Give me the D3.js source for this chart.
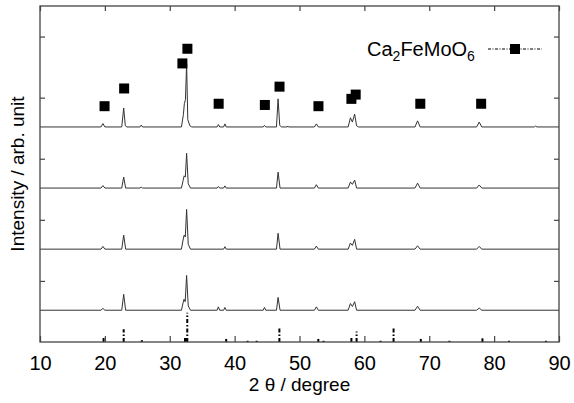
<!DOCTYPE html>
<html><head><meta charset="utf-8">
<script src="https://cdn.jsdelivr.net/npm/d3@7"></script>
<style>body{margin:0;background:#fff}svg{display:block}text{font-family:"Liberation Sans",Arial,sans-serif;fill:#000}</style>
</head><body><svg id="c" width="574" height="403"></svg>
<script>
// ---- data ----
const xTicks = [10,20,30,40,50,60,70,80,90];
const yTicks = [1,2,3,4,5];
const offsets = [0.52, 1.52, 2.52, 3.52]; // baselines, bottom to top
// measured patterns [2theta, intensity above baseline]
const pattern1 = [[10,0],[19.4,0],[19.7,0.03],[20.0,0],[22.6,0],[22.9,0.26],[23.2,0],[31.8,0],[32.05,0.12],[32.2,0.18],[32.38,0.14],[32.6,0.57],[32.85,0.07],[33.2,0],[37.3,0],[37.5,0.055],[37.7,0],[38.3,0],[38.5,0.045],[38.7,0],[44.4,0],[44.6,0.045],[44.8,0],[46.45,0],[46.7,0.21],[47.0,0],[52.3,0],[52.6,0.055],[52.9,0],[57.5,0],[57.85,0.11],[58.15,0.06],[58.5,0.14],[58.8,0],[67.8,0],[68.2,0.065],[68.6,0],[77.3,0],[77.7,0.035],[78.1,0],[90,0]];
const pattern2 = [[10,0],[19.4,0],[19.7,0.045],[20.0,0],[22.6,0],[22.9,0.23],[23.2,0],[31.8,0],[32.05,0.15],[32.22,0.23],[32.4,0.2],[32.6,0.65],[32.85,0.08],[33.2,0],[38.3,0],[38.5,0.04],[38.7,0],[46.45,0],[46.7,0.26],[47.0,0],[52.3,0],[52.6,0.05],[52.9,0],[57.5,0],[57.85,0.1],[58.15,0.06],[58.5,0.16],[58.8,0],[67.8,0],[68.2,0.055],[68.6,0],[77.3,0],[77.7,0.045],[78.1,0],[90,0]];
const pattern3 = [[10,0],[19.4,0],[19.7,0.04],[20.0,0],[22.6,0],[22.9,0.18],[23.2,0],[25.4,0],[25.6,0.015],[25.8,0],[31.8,0],[32.05,0.12],[32.22,0.2],[32.4,0.18],[32.6,0.57],[32.85,0.07],[33.2,0],[37.3,0],[37.5,0.025],[37.7,0],[38.3,0],[38.5,0.035],[38.7,0],[46.45,0],[46.7,0.26],[47.0,0],[52.3,0],[52.6,0.055],[52.9,0],[57.5,0],[57.85,0.1],[58.15,0.06],[58.5,0.13],[58.8,0],[67.8,0],[68.2,0.08],[68.6,0],[77.3,0],[77.7,0.05],[78.1,0],[90,0]];
const pattern4 = [[10,0],[19.4,0],[19.7,0.055],[20.0,0],[22.6,0],[22.9,0.31],[23.15,0.02],[23.4,0],[25.4,0],[25.6,0.03],[25.8,0],[31.8,0],[32.1,0.2],[32.25,0.38],[32.42,0.45],[32.6,1.03],[32.78,0.12],[33.1,0.02],[33.4,0],[37.3,0],[37.5,0.04],[37.7,0],[38.3,0],[38.5,0.05],[38.7,0],[44.4,0],[44.6,0.025],[44.8,0],[46.45,0],[46.7,0.46],[46.95,0.03],[47.2,0],[48.1,0],[48.2,0.015],[48.3,0],[52.3,0],[52.6,0.05],[52.9,0],[57.5,0],[57.85,0.15],[58.15,0.08],[58.5,0.21],[58.8,0.02],[59.1,0],[67.8,0],[68.2,0.1],[68.6,0],[77.3,0],[77.7,0.08],[78.1,0],[86.2,0],[86.4,0.015],[86.6,0],[90,0]];
const patterns = [pattern1, pattern2, pattern3, pattern4];
// Ca2FeMoO6 peak markers
const markX = [19.95,22.97,31.95,32.72,37.54,44.66,46.92,52.92,58.0,58.66,68.62,78.0];
const markY = [3.86,4.15,4.56,4.8,3.9,3.88,4.18,3.86,3.98,4.05,3.9,3.9];
// reference sticks
const stickX = [19.8,22.9,25.7,32.35,32.55,32.7,38.7,42.0,43.4,46.9,52.9,53.7,58.0,58.8,62.5,64.5,68.7,73.1,78.2,82.3,88.0];
const stickI = [0.08,0.21,0.03,0.07,0.07,0.48,0.05,0.02,0.02,0.23,0.05,0.02,0.07,0.17,0.02,0.25,0.05,0.02,0.06,0.02,0.02];
const legendLabel = ["Ca","2","FeMoO","6"];

// ---- drawing ----
const svg = d3.select("#c");
const L=40, R=559, T=6, B=342;
const x = d3.scaleLinear().domain([10,90]).range([L,R]);
const y = d3.scaleLinear().domain([0,5.5]).range([B,T]);
const axisCol = "#444";

// traces
const line = d3.line().x(d=>x(d[0])).y(d=>y(d[1]));
patterns.forEach((p,i)=>{
  svg.append("path").datum(p.map(d=>[d[0], d[1]+offsets[i]]))
    .attr("d", line).attr("fill","none").attr("stroke","#333").attr("stroke-width",1);
});

// sticks
svg.append("g").selectAll("line").data(stickX).join("line")
  .attr("x1",d=>x(d)).attr("x2",d=>x(d))
  .attr("y1",y(0)).attr("y2",(d,i)=>y(stickI[i]))
  .attr("stroke","#000").attr("stroke-width",2)
  .attr("stroke-dasharray","4,2,1.5,2");

// markers
svg.append("g").selectAll("rect").data(markX).join("rect")
  .attr("x",d=>x(d)-5).attr("y",(d,i)=>y(markY[i])-5)
  .attr("width",10).attr("height",10).attr("fill","#000");

// frame
svg.append("rect").attr("x",L).attr("y",T).attr("width",R-L).attr("height",B-T)
  .attr("fill","none").attr("stroke",axisCol).attr("stroke-width",1.3);

// axes (inward ticks)
const xb = svg.append("g").attr("transform",`translate(0,${B})`)
  .call(d3.axisBottom(x).tickValues(xTicks).tickSize(-6).tickPadding(14).tickFormat(d3.format("d")));
const xt = svg.append("g").attr("transform",`translate(0,${T})`)
  .call(d3.axisTop(x).tickValues(xTicks).tickSize(-5).tickFormat(""));
const yl = svg.append("g").attr("transform",`translate(${L},0)`)
  .call(d3.axisLeft(y).tickValues(yTicks).tickSize(-5).tickFormat(""));
const yr = svg.append("g").attr("transform",`translate(${R},0)`)
  .call(d3.axisRight(y).tickValues(yTicks).tickSize(-5).tickFormat(""));
[xb,xt,yl,yr].forEach(g=>{
  g.select(".domain").remove();
  g.selectAll("line").attr("stroke",axisCol).attr("stroke-width",1.2);
});
xb.selectAll("text").attr("font-size",20).attr("font-family","Liberation Sans, Arial, sans-serif").attr("fill","#000");

// axis labels
svg.append("text").attr("x",(L+R)/2).attr("y",391).attr("text-anchor","middle")
  .attr("font-size",19).text("2 θ / degree");
svg.append("text").attr("transform",`translate(24,${(T+B)/2}) rotate(-90)`)
  .attr("text-anchor","middle").attr("font-size",19).text("Intensity / arb. unit");

// legend
const lt = svg.append("text").attr("x",367).attr("y",56).attr("font-size",20);
lt.append("tspan").text(legendLabel[0]);
lt.append("tspan").attr("dy",5).attr("font-size",14).text(legendLabel[1]);
lt.append("tspan").attr("dy",-5).text(legendLabel[2]);
lt.append("tspan").attr("dy",5).attr("font-size",14).text(legendLabel[3]);
svg.append("line").attr("x1",488).attr("x2",542).attr("y1",49).attr("y2",49)
  .attr("stroke","#000").attr("stroke-width",1.2).attr("stroke-dasharray","3,1.5,1,1.5");
svg.append("rect").attr("x",510).attr("y",44).attr("width",10).attr("height",10).attr("fill","#000");
</script></body></html>
